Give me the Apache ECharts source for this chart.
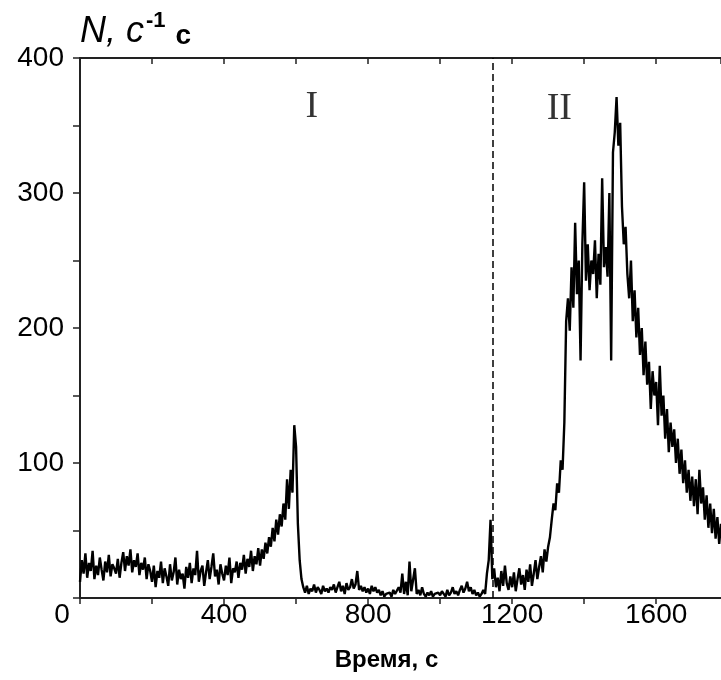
<!DOCTYPE html>
<html>
  <head>
    <meta charset="utf-8" />
    <title>N(t)</title>
    <script src="https://cdn.jsdelivr.net/npm/echarts@6/dist/echarts.min.js"></script>
    <style>
      html,
      body {
        margin: 0;
        padding: 0;
        background: #fff;
      }
      #chart {
        width: 721px;
        height: 680px;
      }
    </style>
  </head>
  <body>
    <div id="chart"></div>
    <script type="text/javascript">
      "use strict"

      // время, с: шаг 5 с, от 0 до 1780
      const tStep = 5
      // скорость счёта N, читано с картинки (по 20 точек = 100 с в строке)
      const countRate = [
        12, 28, 18, 33, 15, 26, 20, 35, 14, 24, 17, 30, 21, 13, 27, 19, 32, 16, 25, 22,
        18, 29, 15, 26, 34, 20, 31, 24, 36, 19, 28, 23, 33, 17, 26, 21, 30, 14, 25, 20,
        12, 24, 8, 20, 15, 27, 11, 22, 16, 9, 25, 13, 19, 30, 10, 21, 14, 18, 7, 23,
        15, 26, 11, 22, 17, 35, 12, 20, 24, 9, 19, 28, 14, 23, 33, 16, 21, 10, 25, 18,
        13, 24, 17, 30, 11, 22, 19, 27, 15, 26, 21, 32, 18, 29, 23, 35, 20, 31, 25, 37,
        24, 36, 29, 41, 33, 45, 38, 52, 42, 58, 47, 62, 53, 70, 58, 88, 66, 95, 78, 128,
        112, 55, 28, 14, 8, 4, 9, 3, 7, 5, 10, 4, 8, 6, 3, 9, 5, 7, 4, 8,
        6, 10, 4, 8, 12, 5, 9, 3, 11, 6, 8, 14, 7, 10, 20, 6, 9, 5, 8, 4,
        7, 3, 9, 5, 8, 4, 6, 2, 5, 1, 3, 2, 4, 1, 6, 3, 2, 8, 4, 18,
        3, 12, 2, 27, 5, 4, 22, 3, 6, 2, 8, 3, 1, 4, 2, 5, 1, 3, 2, 4,
        2, 5, 3, 1, 6, 2, 4, 8, 3, 5, 2, 6, 9, 4, 7, 12, 5, 8, 3, 6,
        2, 4, 1, 3, 6, 3, 18, 28, 58, 14, 22, 8, 15, 5, 20, 9, 24, 11, 6, 16,
        8, 19, 5, 14, 22, 10, 17, 6, 21, 12, 25, 9, 18, 28, 14, 23, 31, 19, 36, 27,
        38, 45, 58, 70, 65, 85, 78, 102, 95, 130, 205, 222, 198, 245, 215, 278, 225, 250, 176, 262,
        308, 235, 262, 228, 250, 240, 265, 222, 255, 232, 311, 245, 260, 238, 300, 176, 330, 345, 371, 335,
        352, 290, 262, 275, 240, 222, 250, 205, 228, 193, 215, 180, 200, 165, 190, 158, 175, 140, 168, 150,
        160, 128, 172, 135, 150, 118, 140, 108, 130, 112, 125, 100, 118, 92, 110, 85, 102, 78, 95, 72,
        90, 68, 88, 62, 95, 70, 82, 58, 76, 52, 70, 48, 66, 44, 60, 40, 55
      ]

      const xTickLabels = [0, 400, 800, 1200, 1600]
      const yTickLabels = [100, 200, 300, 400]
      const boundaryTime = 1145 // граница между областями I и II

      // подписи областей
      const zoneNames = ["I", "II"]
      const zoneTime = [644, 1331]
      const zoneLevel = [364, 362]

      const seriesData = countRate.map((v, i) => [i * tStep, v])
      const zoneData = zoneNames.map((name, i) => ({ value: [zoneTime[i], zoneLevel[i]], name: name }))

      const sans = "Liberation Sans, Arial, sans-serif"

      const myChart = echarts.init(document.getElementById("chart"), null, { renderer: "canvas" })

      const option = {
        backgroundColor: "#fff",
        animation: false,
        grid: {
          left: 80,
          right: 0,
          top: 58,
          bottom: 82
        },
        xAxis: [
          {
            type: "value",
            min: 0,
            max: 1780,
            interval: 200,
            name: "Время, с",
            nameLocation: "middle",
            nameGap: 50,
            nameTextStyle: {
              fontFamily: sans,
              fontSize: 24,
              fontWeight: "bold",
              color: "#000",
              padding: [0, 28, 0, 0]
            },
            axisLine: { show: true, onZero: false, lineStyle: { color: "#222", width: 2 } },
            axisTick: { show: true, inside: false, length: 6, lineStyle: { color: "#222", width: 1.5 } },
            splitLine: { show: false },
            axisLabel: {
              show: true,
              margin: 3,
              fontFamily: sans,
              fontSize: 28,
              color: "#000",
              showMinLabel: true,
              showMaxLabel: false,
              formatter: (v) => {
                if (!xTickLabels.includes(v)) {
                  return ""
                }
                return v === 0 ? "{z|0}" : String(v)
              },
              rich: {
                z: { fontFamily: sans, fontSize: 28, color: "#000", padding: [0, 36, 0, 0] }
              }
            }
          },
          {
            type: "value",
            position: "top",
            min: 0,
            max: 1780,
            interval: 200,
            axisLine: { show: true, onZero: false, lineStyle: { color: "#222", width: 2 } },
            axisTick: { show: true, inside: true, length: 6, lineStyle: { color: "#222", width: 1.5 } },
            axisLabel: { show: false },
            splitLine: { show: false }
          }
        ],
        yAxis: {
          type: "value",
          min: 0,
          max: 400,
          interval: 50,
          name: "{n|N, c}{s|-1}{u|c}",
          nameLocation: "end",
          nameGap: 8,
          nameTextStyle: {
            align: "left",
            verticalAlign: "bottom",
            rich: {
              n: { fontFamily: sans, fontSize: 36, fontStyle: "italic", color: "#000", lineHeight: 42, verticalAlign: "bottom" },
              s: { fontFamily: sans, fontSize: 22, fontWeight: "bold", color: "#000", lineHeight: 42, verticalAlign: "top", padding: [2, 0, 0, 2] },
              u: { fontFamily: sans, fontSize: 28, fontWeight: "bold", color: "#000", lineHeight: 42, verticalAlign: "bottom", padding: [0, 0, 0, 10] }
            }
          },
          axisLine: { show: true, lineStyle: { color: "#222", width: 2 } },
          axisTick: { show: true, inside: false, length: 7, lineStyle: { color: "#222", width: 1.5 } },
          splitLine: { show: false },
          axisLabel: {
            margin: 16,
            fontFamily: sans,
            fontSize: 28,
            color: "#000",
            formatter: (v) => (yTickLabels.includes(v) ? String(v) : "")
          }
        },
        series: [
          {
            name: "N",
            type: "line",
            data: seriesData,
            showSymbol: false,
            sampling: "none",
            lineStyle: { color: "#000", width: 2.4 },
            itemStyle: { color: "#000" },
            markLine: {
              silent: true,
              symbol: "none",
              label: { show: false },
              lineStyle: { color: "#000", width: 1.5, type: [7, 4] },
              data: [{ xAxis: boundaryTime }]
            },
            z: 2
          },
          {
            name: "zones",
            type: "scatter",
            data: zoneData,
            symbolSize: 0,
            silent: true,
            label: {
              show: true,
              position: "inside",
              formatter: (p) => p.name,
              fontFamily: "Liberation Serif, Times New Roman, serif",
              fontSize: 38,
              color: "#000"
            },
            z: 3
          }
        ]
      }

      myChart.setOption(option)
    </script>
  </body>
</html>
